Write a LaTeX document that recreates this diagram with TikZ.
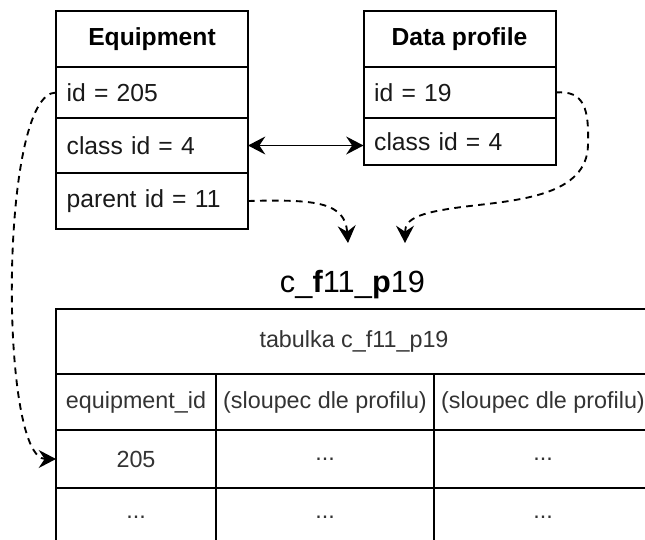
\documentclass[tikz,border=0pt]{standalone}
\usepackage{fontspec}
\setmainfont{Liberation Sans}
\usepackage{tikz}
\usetikzlibrary{arrows.meta,positioning,calc}
\tikzset{
  headbox/.style={draw,line width=1.5pt,outer sep=0pt,inner sep=0pt,
    minimum width=144pt,minimum height=42pt,font=\fontsize{18.5}{22}\selectfont\bfseries},
  rowbox/.style={draw,line width=1.5pt,outer sep=0pt,inner ysep=0pt,inner xsep=8pt,
    text width=128pt,align=left,text=black!90,font=\fontsize{18.5}{22}\selectfont},
  tablecell/.style={draw,line width=1.5pt,outer sep=0pt,inner sep=0pt,align=center,
    text=black!80,font=\fontsize{17.5}{21}\selectfont},
  narrowcol/.style={tablecell,minimum width=120pt},
  widecol/.style={tablecell,minimum width=163.5pt},
  tablename/.style={font=\fontsize{23}{27}\selectfont},
  linkarrow/.style={{Stealth[length=13pt,width=13.5pt,inset=4.5pt]}-{Stealth[length=13pt,width=13.5pt,inset=4.5pt]},
    line width=1.3pt},
  refarrow/.style={-{Stealth[length=13pt,width=13.5pt,inset=4.5pt]},line width=1.4pt,
    dash pattern=on 5pt off 4pt}
}

\begin{document}
\begin{tikzpicture}[x=0.75pt,y=-0.75pt]
  \useasboundingbox (0,0) rectangle (645,539);
  \clip (0,0) rectangle (645,539);
  % Equipment
  \node[headbox] (eqhead) at (152,39) {Equipment};
  \node[rowbox,minimum height=38.25pt,below=0pt of eqhead] (eqid) {id = 205};
  \node[rowbox,minimum height=41.25pt,below=0pt of eqid] (eqclass) {class id = 4};
  \node[rowbox,minimum height=42pt,below=0pt of eqclass] (eqparent) {parent id = 11};
  % Data profile
  \node[headbox] (dphead) at (459.5,39) {Data profile};
  \node[rowbox,minimum height=38.25pt,below=0pt of dphead] (dpid) {id = 19};
  \node[rowbox,minimum height=35.25pt,below=0pt of dpid] (dpclass) {class id = 4};
  % table name and table
  \node[tablename,anchor=base] (tname) at (352.5,292) {c\_\textbf{f}11\_\textbf{p}19};
  \node[tablecell,minimum width=447pt,minimum height=48.75pt,anchor=north west] (ttitle) at (56,309) {tabulka c\_f11\_p19};
  \node[narrowcol,minimum height=42pt,anchor=north west] (hA) at (ttitle.south west) {equipment\_id};
  \node[widecol,minimum height=42pt,right=0pt of hA] (hB) {(sloupec dle profilu)};
  \node[widecol,minimum height=42pt,right=0pt of hB] (hC) {(sloupec dle profilu)};
  \node[narrowcol,minimum height=43.5pt,below=0pt of hA] (rA) {205};
  \node[widecol,minimum height=43.5pt,right=0pt of rA] (rB) {...};
  \node[widecol,minimum height=43.5pt,right=0pt of rB] (rC) {...};
  \node[narrowcol,minimum height=43.5pt,below=0pt of rA] (sA) {...};
  \node[widecol,minimum height=43.5pt,right=0pt of sA] (sB) {...};
  \node[widecol,minimum height=43.5pt,right=0pt of sB] (sC) {...};
  % arrow tips under the name
  \coordinate (ftip) at (348,243);
  \coordinate (ptip) at (405,243);
  % connectors
  \draw[linkarrow] (eqclass.east) -- (eqclass.east -| dpclass.west);
  \draw[refarrow] (eqid.west) .. controls +(-57,0) and +(-57,0) .. (rA.west);
  \draw[refarrow] (eqparent.east) .. controls +(70,-2) and +(-3,-40) .. (ftip);
  \draw[refarrow] (dpid.east) .. controls (585,90) and (589,110) .. (588,145)
    .. controls (587,195) and (520,200) .. (470,206)
    .. controls (420,212) and (405,218) .. (ptip);
\end{tikzpicture}
\end{document}
